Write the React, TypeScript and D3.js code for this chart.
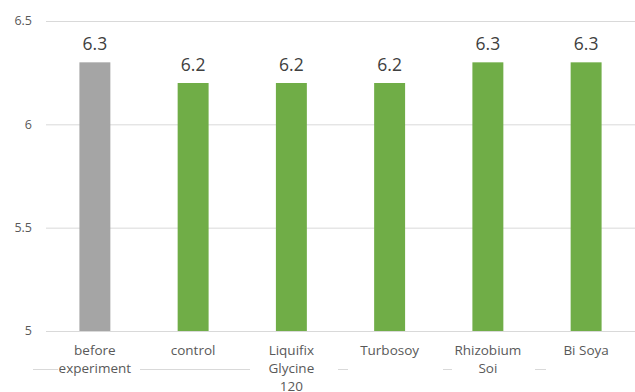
import React from "react";
import * as d3 from "d3";

const categories = ["before experiment", "control", "Liquifix Glycine 120", "Turbosoy", "Rhizobium Soi", "Bi Soya"];
const labelLines = [["before", "experiment"], ["control"], ["Liquifix", "Glycine", "120"], ["Turbosoy"], ["Rhizobium", "Soi"], ["Bi Soya"]];
const values = [6.3, 6.2, 6.2, 6.2, 6.3, 6.3];
const valueLabels = ["6.3", "6.2", "6.2", "6.2", "6.3", "6.3"];
const barColors = ["#A5A5A5", "#70AD47", "#70AD47", "#70AD47", "#70AD47", "#70AD47"];
const yTicks = [5, 5.5, 6, 6.5];
const yTickLabels = ["5", "5.5", "6", "6.5"];
// decorative broken secondary line under the axis (x in px)
const underSegments = [[33, 58], [140, 250], [338, 348], [443, 452], [535, 546]];

export default function App() {
  const W = 635, H = 392;
  const left = 46, right = 635, top = 21, bottom = 331;
  const x = d3.scaleBand().domain(categories).range([left, right]).paddingInner(0.685).paddingOuter(0.34);
  const y = d3.scaleLinear().domain([5, 6.5]).range([bottom, top]);
  const font = "'Open Sans', 'Noto Sans', sans-serif";
  return (
    <svg width={W} height={H} style={{ position: "absolute", left: 0, top: 0 }} fontFamily={font}>
      <rect x={0} y={0} width={W} height={H} fill="#fff" />
      {yTicks.map((t, i) => (
        <g key={t}>
          <line x1={left} x2={right} y1={y(t) + 0.5} y2={y(t) + 0.5} stroke="#D9D9D9" strokeWidth={1} />
          <text x={32} y={y(t)} dy="0.35em" textAnchor="end" fontSize={12.5} fill="#595959">{yTickLabels[i]}</text>
        </g>
      ))}
      {categories.map((c, i) => (
        <g key={c}>
          <rect x={x(c)} y={y(values[i])} width={x.bandwidth()} height={bottom - y(values[i])} fill={barColors[i]} />
          <text x={(x(c) as number) + x.bandwidth() / 2} y={y(values[i]) - 12} textAnchor="middle" fontSize={17.5} fill="#404040">{valueLabels[i]}</text>
          {labelLines[i].map((l, j) => (
            <text key={j} x={(x(c) as number) + x.bandwidth() / 2} y={355 + j * 18} textAnchor="middle" fontSize={13.5} fill="#595959">{l}</text>
          ))}
        </g>
      ))}
      {underSegments.map((s, i) => (
        <line key={i} x1={s[0]} x2={s[1]} y1={369.5} y2={369.5} stroke="#D9D9D9" strokeWidth={1} />
      ))}
    </svg>
  );
}
